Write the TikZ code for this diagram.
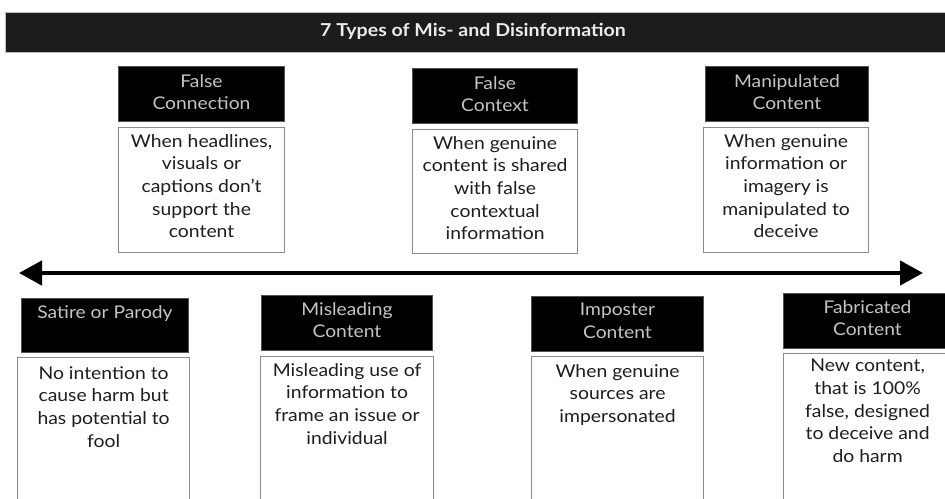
\documentclass[tikz,border=0pt]{standalone}
\usepackage{fontspec}
\setmainfont{Lato}[FakeStretch=1.1]
\usetikzlibrary{arrows.meta}
\definecolor{hdrgray}{HTML}{C4C4C4}
\definecolor{bargray}{HTML}{1C1C1C}
\definecolor{boxline}{HTML}{8A8A8A}
\definecolor{bodyink}{HTML}{1E1E1E}
\begin{document}
\begin{tikzpicture}[x=1pt,y=-1pt,
  hdr/.style={fill=black, draw=boxline!60!black, line width=1pt, anchor=north west, inner sep=0pt},
  bodybox/.style={draw=boxline, line width=1.2pt, fill=white, anchor=north west, inner sep=0pt},
  hdrtxt/.style={text=hdrgray, font=\fontsize{17.5}{22.5}\selectfont, align=center, anchor=north, inner sep=0pt},
  bodytxt/.style={text=bodyink, font=\fontsize{17.6}{22.7}\selectfont, align=center, anchor=north, inner sep=0pt},
  dblarrow/.style={line width=4.5pt, draw=black, {Triangle[length=23pt 0, width=24pt 0]}-{Triangle[length=23pt 0, width=24pt 0]}}]
\useasboundingbox (0,0) rectangle (945,498);
\clip (0,0) rectangle (945,498);
\fill[white] (0,0) rectangle (945,498);
% title bar
\node[fill=bargray, draw=gray!50, line width=0.6pt, anchor=north west, inner sep=0pt, minimum width=945pt, minimum height=40pt] (bar) at (5,12) {};
\node[text=white!92!black, font=\fontsize{17.8}{20}\bfseries\selectfont] (title) at (473,31) {7 Types of Mis- and Disinformation};
% top row
\node[hdr, minimum width=166pt, minimum height=55pt] (fch) at (118,66) {};
\node[hdrtxt] (fcht) at ([yshift=-8pt]fch.north) {False\\Connection};
\node[bodybox, minimum width=166pt, minimum height=125pt] (fcb) at (118,127) {};
\node[bodytxt] (fcbt) at ([yshift=-7pt]fcb.north) {When headlines,\\visuals or\\captions don’t\\support the\\content};
\node[hdr, minimum width=165pt, minimum height=55pt] (fxh) at (412,68) {};
\node[hdrtxt] (fxht) at ([yshift=-8pt]fxh.north) {False\\Context};
\node[bodybox, minimum width=165pt, minimum height=124pt] (fxb) at (412,129) {};
\node[bodytxt] (fxbt) at ([yshift=-7pt]fxb.north) {When genuine\\content is shared\\with false\\contextual\\information};
\node[hdr, minimum width=163pt, minimum height=55pt] (mch) at (705,66) {};
\node[hdrtxt] (mcht) at ([yshift=-8pt]mch.north) {Manipulated\\Content};
\node[bodybox, minimum width=165pt, minimum height=125pt] (mcb) at (703,127) {};
\node[bodytxt] (mcbt) at ([yshift=-7pt]mcb.north) {When genuine\\information or\\imagery is\\manipulated to\\deceive};
% arrow
\coordinate (aL) at (19,273);
\coordinate (aR) at (923,273);
\draw[dblarrow] (aL) -- (aR);
% bottom row
\node[hdr, minimum width=167pt, minimum height=54pt] (sph) at (21,298) {};
\node[hdrtxt] (spht) at ([yshift=-7pt]sph.north) {Satire or Parody};
\node[bodybox, minimum width=172pt, minimum height=160pt] (spb) at (17,357) {};
\node[bodytxt] (spbt) at ([yshift=-9pt]spb.north) {No intention to\\cause harm but\\has potential to\\fool};
\node[hdr, minimum width=171pt, minimum height=55pt] (mlh) at (261,295) {};
\node[hdrtxt] (mlht) at ([yshift=-7pt]mlh.north) {Misleading\\Content};
\node[bodybox, minimum width=173pt, minimum height=160pt] (mlb) at (260,356) {};
\node[bodytxt] (mlbt) at ([yshift=-7pt]mlb.north) {Misleading use of\\information to\\frame an issue or\\individual};
\node[hdr, minimum width=172pt, minimum height=55pt] (imh) at (531,296) {};
\node[hdrtxt] (imht) at ([yshift=-7pt]imh.north) {Imposter\\Content};
\node[bodybox, minimum width=172pt, minimum height=160pt] (imb) at (531,356) {};
\node[bodytxt] (imbt) at ([yshift=-8pt]imb.north) {When genuine\\sources are\\impersonated};
\node[hdr, minimum width=168pt, minimum height=55pt] (fbh) at (783,293) {};
\node[hdrtxt] (fbht) at ([yshift=-7pt]fbh.north) {Fabricated\\Content};
\node[bodybox, minimum width=168pt, minimum height=160pt] (fbb) at (783,353) {};
\node[bodytxt] (fbbt) at ([yshift=-6pt]fbb.north) {New content,\\that is 100\%\\false, designed\\to deceive and\\do harm};
\end{tikzpicture}
\end{document}
